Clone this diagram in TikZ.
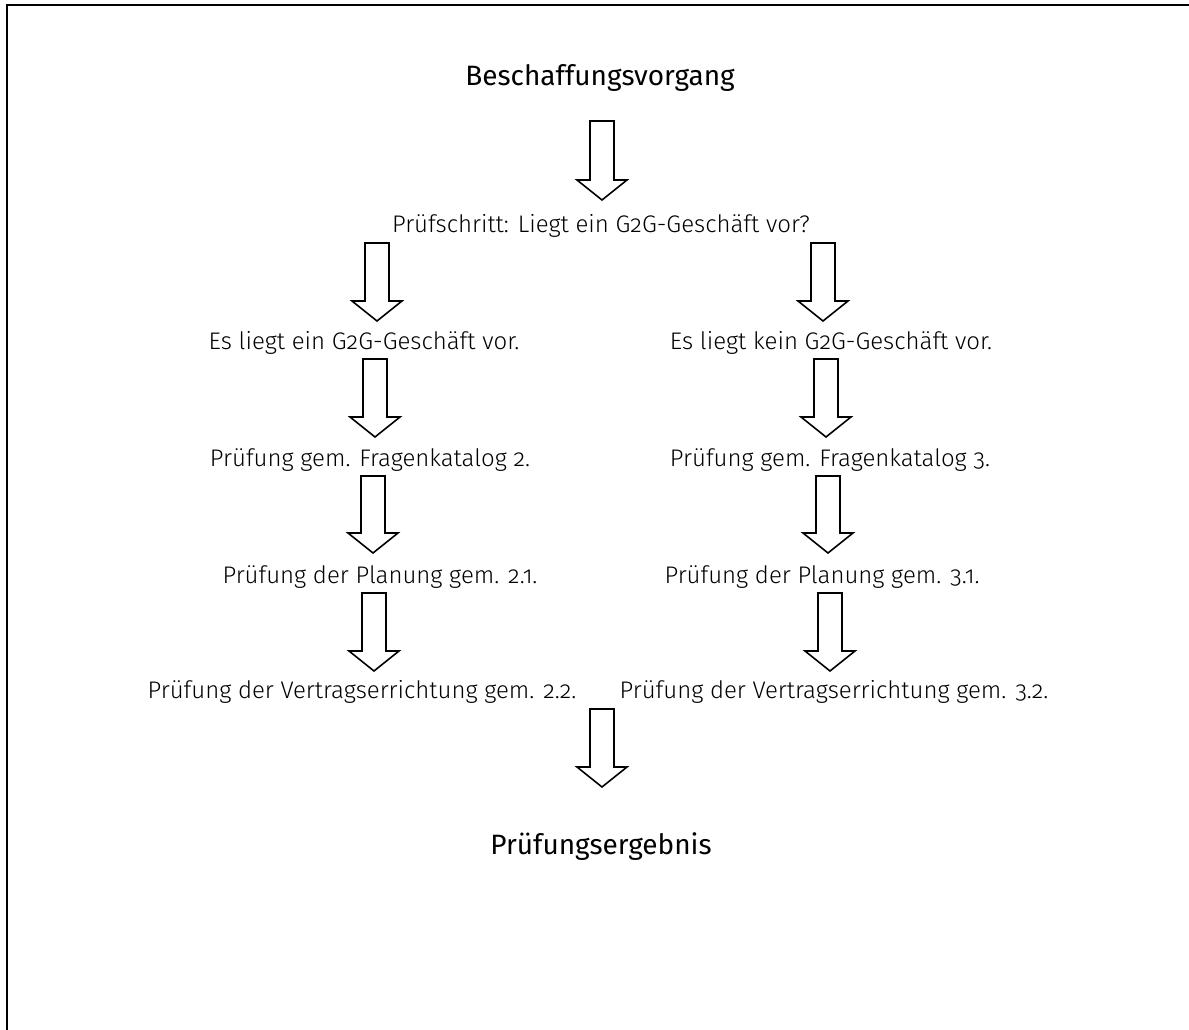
\documentclass[tikz,border=0pt]{standalone}
\usepackage{fontspec}
\IfFontExistsTF{Fira Sans Light}{\setmainfont{Fira Sans Light}[Numbers=OldStyle]}{\setmainfont{Fira Sans}[Numbers=OldStyle]}
\newfontfamily\titelfont{Fira Sans}[Numbers=OldStyle]
\usepackage{tikz}
\usetikzlibrary{calc}
\tikzstyle{titel} = [font=\titelfont\fontsize{28}{32}\selectfont, inner sep=0pt, text=black]
\tikzstyle{schritt} = [font=\fontsize{24}{28}\selectfont, inner sep=0pt, text=black]
\tikzstyle{rahmen} = [line width=2pt, draw=black]
\tikzstyle{pfeil} = [draw=black, line width=1.6pt, line join=miter, to path={let \p1=(\tikztostart), \p2=(\tikztotarget) in (\x1-12pt,\y1) -- (\x1+12pt,\y1) -- (\x1+12pt,\y2+20pt) -- (\x1+25pt,\y2+20pt) -- (\x1,\y2) -- (\x1-25pt,\y2+20pt) -- (\x1-12pt,\y2+20pt) -- cycle}]

\begin{document}
\begin{tikzpicture}[x=1pt, y=-1pt]
\clip (0,0) rectangle (1189,1030);
\draw [rahmen] (7,5) rectangle (1260,1100);

\node (start) [titel] at (600,78) {Beschaffungsvorgang};
\node (pruef) [schritt] at (601,226) {Prüfschritt: Liegt ein G2G-Geschäft vor?};
\node (g2gja) [schritt] at (364,343) {Es liegt ein G2G-Geschäft vor.};
\node (g2gnein) [schritt] at (831,343) {Es liegt kein G2G-Geschäft vor.};
\node (kat2) [schritt] at (370,460) {Prüfung gem. Fragenkatalog 2.};
\node (kat3) [schritt] at (830,460) {Prüfung gem. Fragenkatalog 3.};
\node (plan2) [schritt] at (380,577) {Prüfung der Planung gem. 2.1.};
\node (plan3) [schritt] at (822,577) {Prüfung der Planung gem. 3.1.};
\node (vertr2) [schritt] at (362,692) {Prüfung der Vertragserrichtung gem. 2.2.};
\node (vertr3) [schritt] at (834,692) {Prüfung der Vertragserrichtung gem. 3.2.};
\node (ergebnis) [titel] at (601,847) {Prüfungsergebnis};

%---------------------------------PFEILE
\draw [pfeil] ($(start)+(2,43)$) to ($(pruef)+(1,-26)$);
\draw [pfeil] ($(pruef)+(-224,17)$) to ($(g2gja)+(13,-22)$);
\draw [pfeil] ($(pruef)+(222,17)$) to ($(g2gnein)+(-8,-22)$);
\draw [pfeil] ($(g2gja)+(11,16)$) to ($(kat2)+(5,-23)$);
\draw [pfeil] ($(g2gnein)+(-5,16)$) to ($(kat3)+(-4,-23)$);
\draw [pfeil] ($(kat2)+(3,16)$) to ($(plan2)+(-7,-24)$);
\draw [pfeil] ($(kat3)+(-2,16)$) to ($(plan3)+(6,-24)$);
\draw [pfeil] ($(plan2)+(-6,16)$) to ($(vertr2)+(12,-21)$);
\draw [pfeil] ($(plan3)+(8,16)$) to ($(vertr3)+(-4,-21)$);
\draw [pfeil] ($(vertr2)!0.5!(vertr3)+(4,17)$) to ($(ergebnis)+(1,-60)$);

\end{tikzpicture}
\end{document}
